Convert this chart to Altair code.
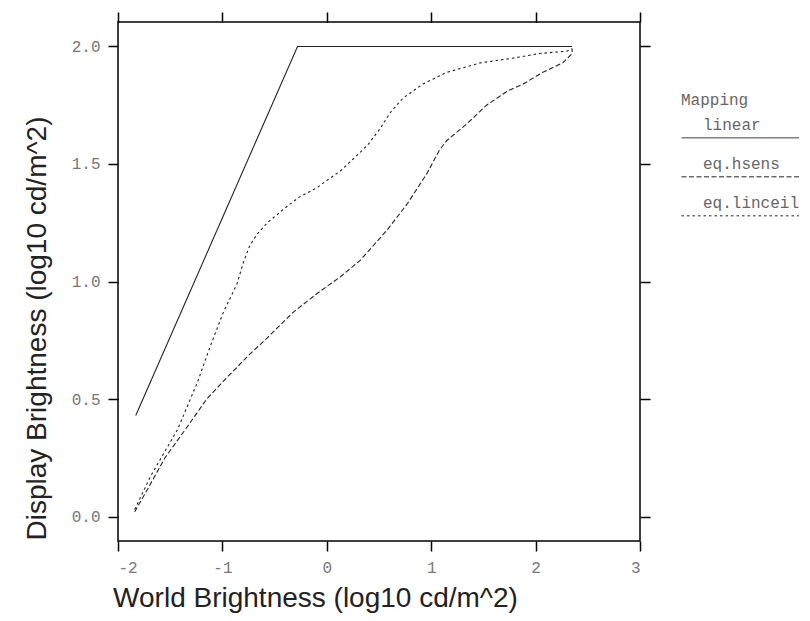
import altair as alt
import pandas as pd

mappings = ["linear", "eq.hsens", "eq.linceil"]

linear_x = [-1.83, -0.28, 2.35]
linear_y = [0.43, 2.0, 2.0]

hsens_x = [-1.84, -1.70, -1.55, -1.34, -1.15, -0.96, -0.74, -0.57, -0.32, -0.09, 0.13, 0.32,
           0.44, 0.58, 0.77, 0.96, 1.08, 1.15, 1.34, 1.53, 1.73, 1.88, 2.07, 2.26, 2.35, 2.35]
hsens_y = [0.02, 0.13, 0.25, 0.38, 0.50, 0.59, 0.69, 0.76, 0.87, 0.95, 1.02, 1.09,
           1.15, 1.22, 1.33, 1.46, 1.56, 1.60, 1.67, 1.75, 1.81, 1.84, 1.89, 1.93, 1.97, 1.99]

linceil_x = [-1.84, -1.69, -1.43, -1.24, -1.12, -0.99, -0.86, -0.80, -0.74, -0.67, -0.57, -0.38,
             -0.26, -0.09, 0.00, 0.13, 0.25, 0.39, 0.51, 0.61, 0.73, 0.92, 1.15, 1.47, 1.78,
             2.04, 2.30, 2.35]
linceil_y = [0.03, 0.17, 0.37, 0.57, 0.72, 0.87, 0.99, 1.08, 1.15, 1.20, 1.25, 1.32,
             1.36, 1.40, 1.43, 1.47, 1.52, 1.58, 1.65, 1.72, 1.78, 1.84, 1.89, 1.93, 1.95,
             1.97, 1.98, 1.99]

x_ticks = [-2, -1, 0, 1, 2, 3]
y_ticks = [0.0, 0.5, 1.0, 1.5, 2.0]

rows = []
for name, xs, ys in [("linear", linear_x, linear_y),
                     ("eq.hsens", hsens_x, hsens_y),
                     ("eq.linceil", linceil_x, linceil_y)]:
    for i, (xv, yv) in enumerate(zip(xs, ys)):
        rows.append({"Mapping": name, "x": xv, "y": yv, "i": i})
df = pd.DataFrame(rows)

MONO = "Liberation Mono"
SANS = "Liberation Sans"

xs = alt.Scale(domain=[-2, 3], nice=False, zero=False)
ys = alt.Scale(domain=[-0.104, 2.104], nice=False, zero=False)

base = alt.Chart(df)

lines = base.mark_line(strokeWidth=1.1, color="#222").encode(
    x=alt.X("x:Q", scale=xs,
            axis=alt.Axis(orient="bottom", values=x_ticks, labelExpr="'' + datum.value",
                          title="World Brightness (log10 cd/m^2)",
                          titleX=197, titlePadding=9)),
    y=alt.Y("y:Q", scale=ys,
            axis=alt.Axis(orient="left", values=y_ticks, labelExpr="format(datum.value, '.1f')",
                          title="Display Brightness (log10 cd/m^2)",
                          titleY=306, titlePadding=20)),
    strokeDash=alt.StrokeDash(
        "Mapping:N",
        scale=alt.Scale(domain=mappings, range=[[1, 0], [5, 2.5], [2.5, 3]]),
        legend=alt.Legend(
            orient="none", legendX=563, legendY=70,
            title="Mapping", titleFont=MONO, titleFontSize=16, titleFontWeight="normal",
            titleColor="#666", titlePadding=7,
            symbolType="M-1,0.08H1", symbolSize=14641, symbolStrokeWidth=1,
            symbolStrokeColor="#222",
            clipHeight=36, rowPadding=3,
            labelFont=MONO, labelFontSize=16, labelColor="#666",
            labelBaseline="bottom", labelOffset={"expr": "-100"},
        ),
    ),
    order=alt.Order("i:Q"),
)

frame = base.mark_line(opacity=0).encode(
    x=alt.X("x:Q", scale=xs,
            axis=alt.Axis(orient="top", values=x_ticks, labels=False, title="")),
    y=alt.Y("y:Q", scale=ys,
            axis=alt.Axis(orient="right", values=y_ticks, labels=False, title="")),
    detail="Mapping:N",
)

chart = (
    alt.layer(lines, frame)
    .resolve_axis(x="independent", y="independent")
    .properties(
        width=522, height=519,
        autosize=alt.AutoSizeParams(type="none"),
        padding={"left": 110, "top": 14, "right": 162, "bottom": 72},
    )
    .configure_view(stroke="black", strokeWidth=1.5)
    .configure_axis(
        domain=False, grid=False,
        tickColor="black", tickWidth=1.5, tickSize=10,
        labelFont=MONO, labelFontSize=16, labelColor="#777", labelPadding=8,
        titleFont=SANS, titleFontSize=28, titleFontWeight="normal", titleColor="#222",
    )
)

chart.save("out.html", embed_options={"renderer": "svg", "actions": False})
